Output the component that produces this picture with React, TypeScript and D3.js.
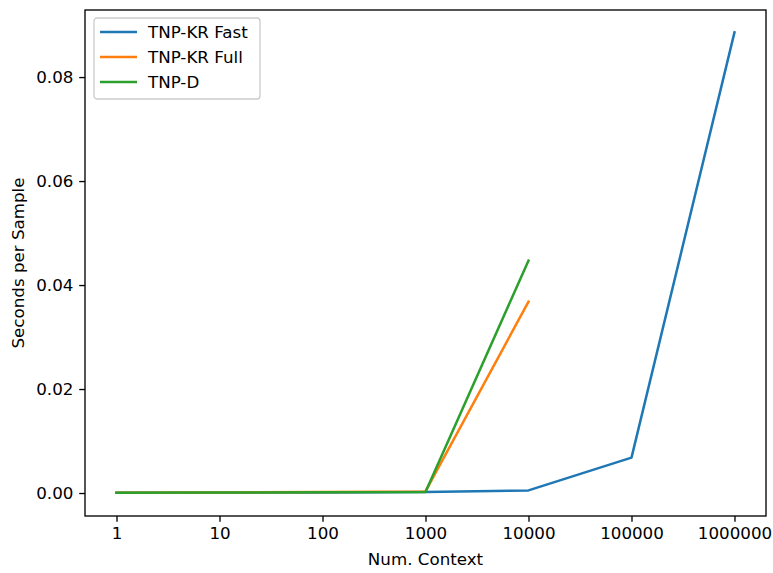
import React, { useEffect, useRef } from "react";
import * as d3 from "d3";

const contexts = ["1", "10", "100", "1000", "10000", "100000", "1000000"];
const fastValues = [0.00005, 0.00007, 0.0001, 0.0002, 0.0005, 0.0068, 0.0886];
const fullValues = [0.00005, 0.0001, 0.0002, 0.0003, 0.0368];
const dValues = [0.00005, 0.0001, 0.00015, 0.0002, 0.0447];
const yTicks = [0, 0.02, 0.04, 0.06, 0.08];

const seriesNames = ["TNP-KR Fast", "TNP-KR Full", "TNP-D"];
const colors = ["#1f77b4", "#ff7f0e", "#2ca02c"];

function App() {
  const svgRef = useRef<SVGSVGElement>(null);

  useEffect(() => {
    const width = 773;
    const height = 573;
    const margin = { top: 10, right: 7, bottom: 57, left: 85 };
    const innerW = width - margin.left - margin.right;
    const innerH = height - margin.top - margin.bottom;
    const font = "DejaVu Sans, sans-serif";
    const fs = "16.7px";

    const svg = d3.select(svgRef.current);
    svg.selectAll("*").remove();
    svg.attr("width", width).attr("height", height);

    const g = svg
      .append("g")
      .attr("transform", `translate(${margin.left},${margin.top})`);

    // matplotlib-ish 5% margins on a categorical axis
    const x = d3
      .scalePoint()
      .domain(contexts)
      .range([0, innerW])
      .padding(0.306);

    const y = d3.scaleLinear().domain([-0.00442, 0.0929]).range([innerH, 0]);

    const series = [fastValues, fullValues, dValues];
    const line = d3
      .line<number>()
      .x((_, i) => x(contexts[i]) as number)
      .y((d) => y(d));

    series.forEach((vals, k) => {
      g.append("path")
        .datum(vals)
        .attr("fill", "none")
        .attr("stroke", colors[k])
        .attr("stroke-width", 2.5)
        .attr("stroke-linejoin", "round")
        .attr("stroke-linecap", "square")
        .attr("d", line);
    });

    // axes
    const xAxis = g
      .append("g")
      .attr("transform", `translate(0,${innerH})`)
      .call(d3.axisBottom(x).tickSize(5.8).tickPadding(5.8));
    const yAxis = g
      .append("g")
      .call(
        d3
          .axisLeft(y)
          .tickValues(yTicks)
          .tickFormat(d3.format(".2f"))
          .tickSize(5.8)
          .tickPadding(5.8)
      );
    [xAxis, yAxis].forEach((a) => {
      a.select(".domain").remove();
      a.selectAll("line").attr("stroke", "#000").attr("stroke-width", 1.33);
      a.selectAll("text")
        .attr("fill", "#000")
        .style("font-family", font)
        .style("font-size", fs);
    });

    g.append("rect")
      .attr("width", innerW)
      .attr("height", innerH)
      .attr("fill", "none")
      .attr("stroke", "#000")
      .attr("stroke-width", 1.33);

    // labels
    svg
      .append("text")
      .attr("x", margin.left + innerW / 2)
      .attr("y", 565)
      .attr("text-anchor", "middle")
      .style("font-family", font)
      .style("font-size", fs)
      .text("Num. Context");

    svg
      .append("text")
      .attr("transform", `translate(24,${margin.top + innerH / 2}) rotate(-90)`)
      .attr("text-anchor", "middle")
      .style("font-family", font)
      .style("font-size", fs)
      .text("Seconds per Sample");

    // legend
    const legend = svg.append("g").attr("transform", "translate(94,18)");
    legend
      .append("rect")
      .attr("width", 166)
      .attr("height", 81)
      .attr("rx", 3)
      .attr("fill", "#fff")
      .attr("fill-opacity", 0.8)
      .attr("stroke", "#ccc")
      .attr("stroke-width", 1.33);
    seriesNames.forEach((name, k) => {
      const yy = 14 + k * 25;
      legend
        .append("line")
        .attr("x1", 6)
        .attr("x2", 43)
        .attr("y1", yy)
        .attr("y2", yy)
        .attr("stroke", colors[k])
        .attr("stroke-width", 2.5);
      legend
        .append("text")
        .attr("x", 54)
        .attr("y", yy)
        .attr("dy", "0.35em")
        .style("font-family", font)
        .style("font-size", fs)
        .text(name);
    });
  }, []);

  return (
    <svg
      ref={svgRef}
      style={{ position: "absolute", left: 0, top: 0, background: "#fff" }}
    ></svg>
  );
}

export default App;
